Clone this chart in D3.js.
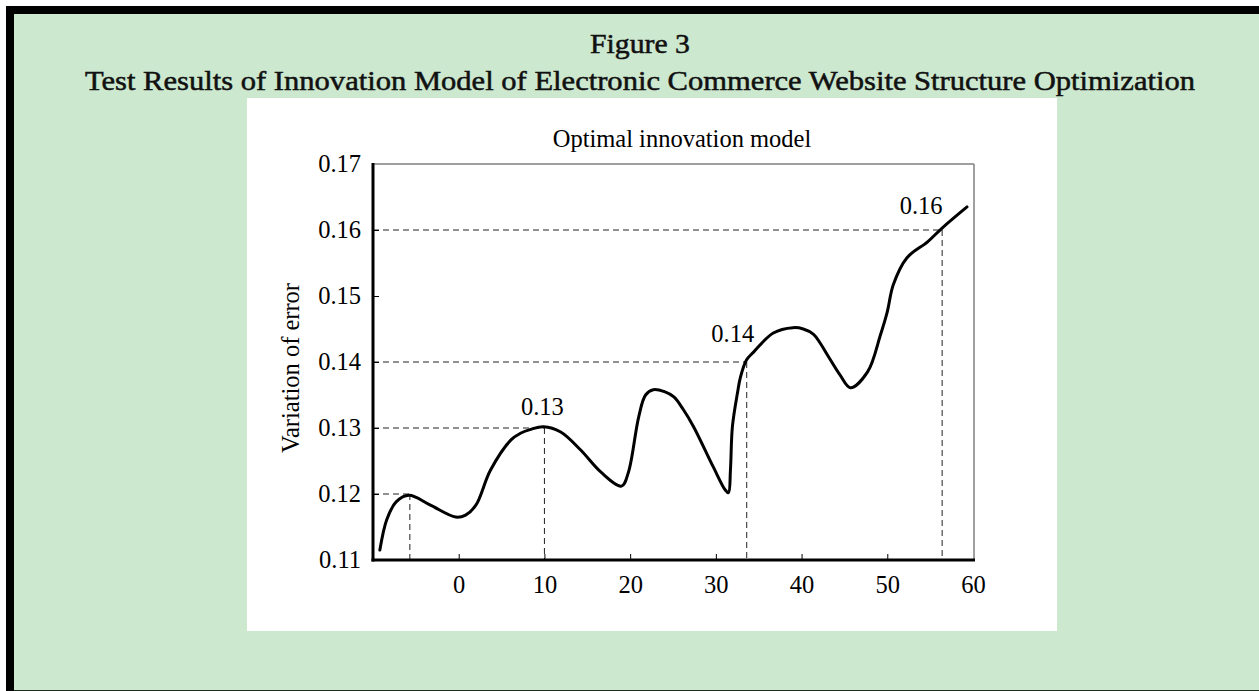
<!DOCTYPE html>
<html><head><meta charset="utf-8">
<script src="https://cdn.jsdelivr.net/npm/d3@7"></script>
<style>html,body{margin:0;padding:0;background:#fff;overflow:hidden}</style>
</head><body>
<svg id="c" width="1259" height="691"></svg>
<script>
// ---- data ----
const xTicks = [0, 10, 20, 30, 40, 50, 60];
const yTicks = [0.11, 0.12, 0.13, 0.14, 0.15, 0.16, 0.17];
const curveX = [-9.2,-8.4,-7.3,-5.8,-3.3,-0.35,0.8,2.0,3.7,6.1,7.2,8.4,9.9,11.9,14.2,16.6,19.0,19.8,21.0,21.8,22.7,24.0,25.1,26.2,27.4,29.7,31.1,31.47,31.7,31.93,32.52,32.87,33.57,34.4,36.7,39.0,40.2,41.4,42.2,43.0,44.5,45.7,47.7,49.2,50.0,50.7,52.3,54.7,56.4,59.3];
const curveY = [0.1115,0.1161,0.1188,0.1198,0.1183,0.1165,0.1168,0.1183,0.1236,0.1282,0.1292,0.1298,0.1302,0.1294,0.1267,0.1233,0.1212,0.1233,0.1317,0.1350,0.1358,0.1355,0.1347,0.1328,0.1302,0.1241,0.1206,0.1202,0.1236,0.1302,0.1353,0.1377,0.1403,0.1415,0.1444,0.1452,0.1450,0.1442,0.1428,0.1411,0.1380,0.1361,0.1385,0.1441,0.1476,0.1517,0.1558,0.1582,0.1603,0.1635];
const markX = [-5.7, 10, 33.6, 56.4];
const markY = [0.12, 0.13, 0.14, 0.16];
const markLabel = ["", "0.13", "0.14", "0.16"];
const figTitle = "Figure 3";
const figSubtitle = "Test Results of Innovation Model of Electronic Commerce Website Structure Optimization";
const chartTitle = "Optimal innovation model";
const yLabel = "Variation of error";

const svg = d3.select("#c");
// frame
svg.append("rect").attr("x",0).attr("y",0).attr("width",1259).attr("height",691).attr("fill","#fff");
svg.append("rect").attr("x",6).attr("y",6).attr("width",1253).attr("height",685).attr("fill","#000");
svg.append("rect").attr("x",14).attr("y",14).attr("width",1245).attr("height",676).attr("fill","#cce8cf");
svg.append("line").attr("x1",14).attr("x2",1259).attr("y1",690.5).attr("y2",690.5).attr("stroke","#1e2a22");

const serifFig = "'Liberation Serif','DejaVu Serif',serif";
svg.append("text").attr("x",640).attr("y",53).attr("text-anchor","middle")
  .attr("font-family",serifFig).attr("font-size",27).attr("fill","#111")
  .attr("stroke","#111").attr("stroke-width",0.5)
  .attr("textLength",100).attr("lengthAdjust","spacingAndGlyphs")
  .text(figTitle);
svg.append("text").attr("x",640).attr("y",90).attr("text-anchor","middle")
  .attr("font-family",serifFig).attr("font-size",27).attr("fill","#111")
  .attr("stroke","#111").attr("stroke-width",0.5)
  .attr("textLength",1110).attr("lengthAdjust","spacingAndGlyphs")
  .text(figSubtitle);

// white panel
svg.append("rect").attr("x",247).attr("y",98).attr("width",810).attr("height",533).attr("fill","#fff");

const L=373, R=973, T=164, B=560;
const x = d3.scaleLinear().domain([-10,60]).range([L,R]);
const y = d3.scaleLinear().domain([0.11,0.17]).range([B,T]);
const font = "'Liberation Serif','Times New Roman',serif";
const fs = 24.5;

const g = svg.append("g");
// top & right frame
g.append("line").attr("x1",L).attr("x2",R+1).attr("y1",T).attr("y2",T).attr("stroke","#808080").attr("stroke-width",1.5);
g.append("line").attr("x1",R+1).attr("x2",R+1).attr("y1",T).attr("y2",B).attr("stroke","#808080").attr("stroke-width",1.5);

// dashed guides
const dash = "6,4";
markX.forEach((mx,i)=>{
  const my = markY[i];
  g.append("line").attr("x1",L).attr("x2",x(mx)).attr("y1",y(my)).attr("y2",y(my))
    .attr("stroke","#222").attr("stroke-width",1).attr("stroke-dasharray",dash);
  g.append("line").attr("x1",x(mx)).attr("x2",x(mx)).attr("y1",y(my)).attr("y2",B)
    .attr("stroke","#222").attr("stroke-width",1).attr("stroke-dasharray",dash);
});

// axes
const yAxis = d3.axisLeft(y).tickValues(yTicks).tickSize(-6).tickPadding(12).tickFormat(d3.format(".2f"));
const ya = g.append("g").attr("transform",`translate(${L},0)`).call(yAxis);
ya.select(".domain").remove();
ya.selectAll(".tick line").attr("stroke","#000").attr("stroke-width",1)
  .filter(d=>d===0.11||d===0.17).remove();
ya.selectAll("text").attr("font-family",font).attr("font-size",fs).attr("fill","#000");

const xAxis = d3.axisBottom(x).tickValues(xTicks).tickSize(-6).tickPadding(16).tickFormat(d3.format("d"));
const xa = g.append("g").attr("transform",`translate(0,${B})`).call(xAxis);
xa.select(".domain").remove();
xa.selectAll(".tick line").attr("stroke","#000").attr("stroke-width",1)
  .filter(d=>d===60).remove();
xa.selectAll("text").attr("font-family",font).attr("font-size",fs).attr("fill","#000");

g.append("line").attr("x1",L).attr("x2",L).attr("y1",T-1).attr("y2",B+1.5).attr("stroke","#000").attr("stroke-width",3);
g.append("line").attr("x1",L-1.5).attr("x2",R+2).attr("y1",B).attr("y2",B).attr("stroke","#000").attr("stroke-width",3);

// curve
const pts = curveX.map((d,i)=>[d,curveY[i]]);
g.append("path").datum(pts)
  .attr("d", d3.line().x(d=>x(d[0])).y(d=>y(d[1])).curve(d3.curveCatmullRom.alpha(0.5)))
  .attr("fill","none").attr("stroke","#000").attr("stroke-width",3).attr("stroke-linejoin","round").attr("stroke-linecap","round");

// mark labels
const labOff = [[0,0],[-2,-13],[-14,-20],[-21,-16]];
markX.forEach((mx,i)=>{
  if(!markLabel[i]) return;
  g.append("text").attr("x",x(mx)+labOff[i][0]).attr("y",y(markY[i])+labOff[i][1])
    .attr("text-anchor","middle").attr("font-family",font).attr("font-size",fs).attr("fill","#000")
    .text(markLabel[i]);
});

// titles
g.append("text").attr("x",682).attr("y",147).attr("text-anchor","middle")
  .attr("font-family",font).attr("font-size",fs).attr("fill","#000").text(chartTitle);
g.append("text").attr("transform",`translate(299,368) rotate(-90)`).attr("text-anchor","middle")
  .attr("font-family",font).attr("font-size",fs).attr("fill","#000").text(yLabel);
</script>
</body></html>
